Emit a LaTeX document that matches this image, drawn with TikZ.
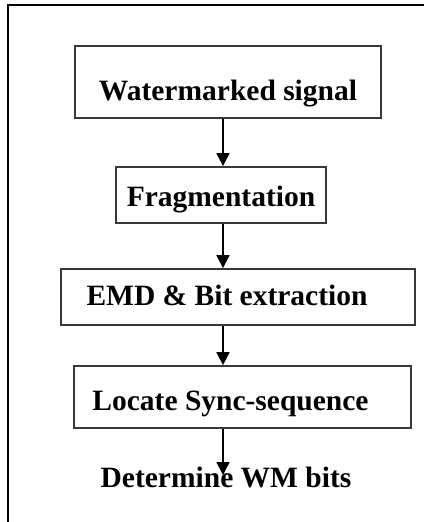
\documentclass[tikz,border=0pt]{standalone}
\usepackage{fontspec}
\setmainfont{Liberation Serif}
\usetikzlibrary{arrows.meta,calc}
\definecolor{BoxEdge}{HTML}{383838}
\tikzset{
  stepbox/.style={draw=BoxEdge, line width=1.8pt, fill=white, inner sep=0pt,
                  font=\fontsize{29.5}{34}\selectfont\bfseries},
  result/.style={inner sep=0pt, anchor=base, font=\fontsize{29.5}{34}\selectfont\bfseries},
  flow/.style={-{Triangle[length=13pt,width=13pt]}, line width=1.8pt, black},
  frame/.style={line width=2.2pt, black},
}

\begin{document}
\begin{tikzpicture}[x=1pt, y=-1pt]
  \useasboundingbox (0,0) rectangle (424,522);
  % open frame, left and top edges only
  \draw[frame] (8,522) -- (8,5) -- (424,5);
  \coordinate (spine) at (223,0);

  % kern after the text pushes it left of the box centre
  \node[stepbox, minimum width=306pt, text height=54pt, text depth=18pt] (w) at (228,82) {Watermarked signal};
  \node[stepbox, minimum width=210pt, text height=39pt, text depth=17pt] (f) at (221,195) {Fragmentation};
  \node[stepbox, minimum width=354pt, text height=36pt, text depth=20pt] (e) at (238,297) {EMD \& Bit extraction\kern22pt};
  \node[stepbox, minimum width=337pt, text height=44pt, text depth=18pt] (l) at (242.5,397) {Locate Sync-sequence\kern24pt};
  \node[result] (d) at (226,487) {Determine WM bits};
  \coordinate (tip) at (223,475);

  \draw[flow] (w.south -| spine) -- (f.north -| spine);
  \draw[flow] (f.south -| spine) -- (e.north -| spine);
  \draw[flow] (e.south -| spine) -- (l.north -| spine);
  \draw[flow] (l.south -| spine) -- (tip);
\end{tikzpicture}
\end{document}
